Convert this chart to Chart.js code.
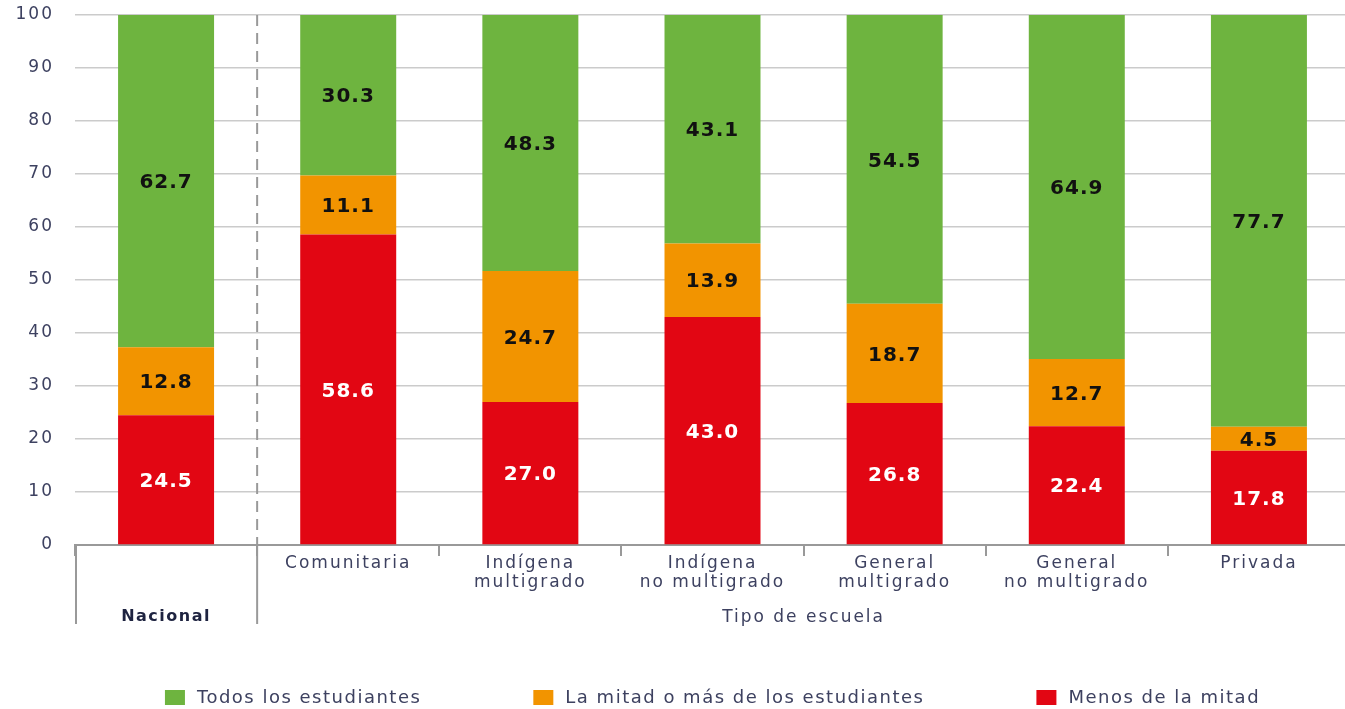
<!DOCTYPE html>
<html>
<head>
<meta charset="utf-8">
<script src="https://cdn.jsdelivr.net/npm/chart.js@4.4.0/dist/chart.umd.min.js"></script>
<style>
  html, body { margin: 0; padding: 0; background: #fff; overflow: hidden; }
</style>
</head>
<body>
<canvas id="myChart" width="1350" height="709"></canvas>
<script>
// categories (first one is the national total, the rest are school types)
const categories = ['Nacional', 'Comunitaria', ['Indígena', 'multigrado'], ['Indígena', 'no multigrado'],
  ['General', 'multigrado'], ['General', 'no multigrado'], 'Privada']
const groupLabel = 'Tipo de escuela'

// series values (%)
const menosDeLaMitad = [24.5, 58.6, 27.0, 43.0, 26.8, 22.4, 17.8]
const laMitadOMas = [12.8, 11.1, 24.7, 13.9, 18.7, 12.7, 4.5]
const todos = [62.7, 30.3, 48.3, 43.1, 54.5, 64.9, 77.7]

const yTicks = [0, 10, 20, 30, 40, 50, 60, 70, 80, 90, 100]

const FONT = "'DejaVu Sans', sans-serif"
const TEXT = '#3d4160'
const LINE = '#999999'

Chart.defaults.font.family = FONT
Chart.defaults.color = TEXT

function spacing(ctx, px) {
  if ('letterSpacing' in ctx) ctx.letterSpacing = px
}

// value labels, separators, group titles and legend
const extras = {
  id: 'extras',
  beforeLayout(chart) { spacing(chart.ctx, '2px') },
  beforeDraw(chart) { spacing(chart.ctx, '2px') },
  afterDatasetsDraw(chart) {
    const ctx = chart.ctx
    ctx.save()
    spacing(ctx, '1px')
    ctx.font = 'bold 20px ' + FONT
    ctx.textAlign = 'center'
    ctx.textBaseline = 'middle'
    chart.data.datasets.forEach((ds, i) => {
      chart.getDatasetMeta(i).data.forEach((bar, j) => {
        ctx.fillStyle = ds.labelColor
        ctx.fillText(ds.data[j].toFixed(1), bar.x, (bar.y + bar.base) / 2 + 2)
      })
    })
    ctx.restore()
  },
  afterDraw(chart) {
    const ctx = chart.ctx
    const area = chart.chartArea
    const x = chart.scales.x
    const split = (x.getPixelForValue(0) + x.getPixelForValue(1)) / 2
    const lowY = area.bottom + 79

    ctx.save()
    ctx.strokeStyle = LINE
    ctx.lineWidth = 2
    ctx.setLineDash([11, 7])
    ctx.beginPath()
    ctx.moveTo(split, area.top)
    ctx.lineTo(split, area.bottom)
    ctx.stroke()
    ctx.setLineDash([])
    ctx.beginPath()
    ctx.moveTo(split, area.bottom)
    ctx.lineTo(split, lowY)
    ctx.moveTo(area.left + 1, area.bottom)
    ctx.lineTo(area.left + 1, lowY)
    ctx.stroke()

    ctx.textAlign = 'center'
    ctx.textBaseline = 'middle'
    spacing(ctx, '1.5px')
    ctx.fillStyle = '#1e2340'
    ctx.font = 'bold 16px ' + FONT
    ctx.fillText(categories[0], x.getPixelForValue(0), area.bottom + 72)
    spacing(ctx, '2px')
    ctx.fillStyle = TEXT
    ctx.font = '17px ' + FONT
    ctx.fillText(groupLabel, (split + area.right) / 2, area.bottom + 73)

    // legend
    spacing(ctx, '1.5px')
    ctx.font = '18px ' + FONT
    const items = chart.data.datasets.slice().reverse()
    const box = 20, gapText = 12, gapItem = 112
    const widths = items.map(d => box + gapText + ctx.measureText(d.label).width)
    const total = widths.reduce((a, b) => a + b, 0) + gapItem * (items.length - 1)
    let lx = (area.left + area.right) / 2 - total / 2
    const ly = 697
    ctx.textAlign = 'left'
    items.forEach((d, i) => {
      ctx.fillStyle = d.backgroundColor
      ctx.fillRect(lx, ly - 7, box, 15)
      ctx.fillStyle = TEXT
      ctx.fillText(d.label, lx + box + gapText, ly + 1)
      lx += widths[i] + gapItem
    })
    ctx.restore()
  }
}

const ctx = document.getElementById('myChart').getContext('2d')
const chart = new Chart(ctx, {
  type: 'bar',
  data: {
    labels: categories,
    datasets: [
      { label: 'Menos de la mitad', data: menosDeLaMitad, backgroundColor: '#e20613', labelColor: '#ffffff' },
      { label: 'La mitad o más de los estudiantes', data: laMitadOMas, backgroundColor: '#f29400', labelColor: '#111111' },
      { label: 'Todos los estudiantes', data: todos, backgroundColor: '#6eb43f', labelColor: '#111111' }
    ]
  },
  options: {
    responsive: false,
    animation: false,
    layout: { padding: { top: 15, right: 0, bottom: 0, left: 0 } },
    datasets: { bar: { categoryPercentage: 1, barPercentage: 0.527 } },
    plugins: { legend: { display: false }, tooltip: { enabled: false } },
    scales: {
      x: {
        stacked: true,
        grid: { drawOnChartArea: false, drawTicks: true, tickLength: 11, color: LINE, lineWidth: 2 },
        border: { display: true, color: LINE, width: 2 },
        ticks: {
          padding: -2,
          font: { size: 17, lineHeight: 1.12 },
          color: TEXT,
          maxRotation: 0,
          autoSkip: false,
          callback: (v, i) => i === 0 ? '' : categories[i]
        },
        afterFit: s => { s.height = 164 }
      },
      y: {
        stacked: true,
        min: 0,
        max: 100,
        afterBuildTicks: s => { s.ticks = yTicks.map(v => ({ value: v })) },
        grid: { color: '#cbcbcb', lineWidth: 1.5, drawTicks: false },
        border: { display: false },
        ticks: { padding: 21, font: { size: 17 }, color: TEXT },
        afterFit: s => { s.width = 75; s.paddingTop = 0; s.paddingBottom = 0 }
      }
    }
  },
  plugins: [extras]
})
</script>
</body>
</html>
